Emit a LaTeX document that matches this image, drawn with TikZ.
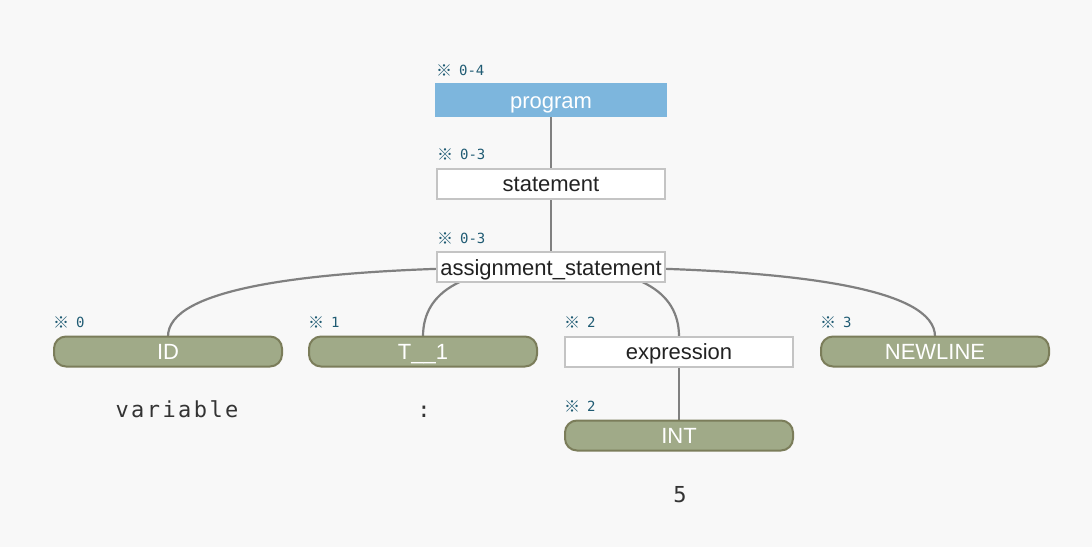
\documentclass[tikz,border=0pt]{standalone}
\usepackage{fontspec}
\setmainfont{Liberation Sans}
\newfontfamily\monofont{DejaVu Sans Mono}
\newfontfamily\leaffont[LetterSpace=11]{DejaVu Sans Mono}
\newfontfamily\cjk{Noto Sans CJK JP}
\usetikzlibrary{calc,backgrounds}
\definecolor{bgc}{HTML}{F8F8F8}
\definecolor{progfill}{HTML}{7DB6DD}
\definecolor{greenfill}{HTML}{A0AA88}
\definecolor{greenline}{HTML}{7B7D5A}
\definecolor{whiteline}{HTML}{C4C4C4}
\definecolor{linkc}{HTML}{808080}
\definecolor{labc}{HTML}{1F5B73}
\definecolor{textc}{HTML}{222222}
\definecolor{leafc}{HTML}{333333}
\newcommand{\refmark}{\raisebox{-1.2pt}{\cjk\fontsize{16}{16}\selectfont ※}\kern-1.5pt}
\tikzset{
  nodebase/.style={inner sep=0pt, outer sep=0pt, text height=17pt, text depth=1pt,
    font=\fontsize{22}{24}\selectfont},
  rulebox/.style={nodebase, draw=whiteline, line width=2pt, fill=white, text=textc,
    minimum width=228pt, minimum height=30pt},
  rootbox/.style={nodebase, fill=progfill, text=white,
    minimum width=232pt, minimum height=34pt},
  tokbox/.style={nodebase, draw=greenline, line width=2pt, fill=greenfill, text=white,
    minimum width=228pt, minimum height=30pt, rounded corners=12pt},
  lab/.style={inner sep=0pt, anchor=base west, text=labc,
    font=\fontsize{14}{15}\selectfont\monofont},
  leaf/.style={inner sep=0pt, anchor=base, text=leafc,
    font=\fontsize{22}{24}\selectfont\leaffont},
  link/.style={draw=linkc, line width=2.2pt},
  qlink/.style={to path={.. controls ($(\tikztostart)!0.6667!(\tikztostart -| \tikztotarget)$)
    and ($(\tikztotarget)!0.6667!(\tikztotarget |- \tikztostart)$) .. (\tikztotarget)}}
}
\begin{document}
\begin{tikzpicture}[x=1pt,y=-1pt]
\useasboundingbox (0,0) rectangle (1092,547);
% nodes
\node[rootbox] (prog) at (551,100) {program};
\node[rulebox] (stmt) at (551,183.5) {statement};
\node[rulebox] (asg) at (551,267) {assignment\_statement};
\node[tokbox] (id) at (168,351.5) {ID};
\node[tokbox] (t1) at (423,351.5) {T\_\_1};
\node[rulebox] (expr) at (679,351.5) {expression};
\node[tokbox] (nl) at (935,351.5) {NEWLINE};
\node[tokbox] (int) at (679,435.5) {INT};
% labels
\node[lab] (lprog) at ([xshift=1pt,yshift=8pt]prog.north west) {\refmark{} 0-4};
\node[lab] (lstmt) at ([xshift=0pt,yshift=9pt]stmt.north west) {\refmark{} 0-3};
\node[lab] (lasg) at ([xshift=0pt,yshift=9pt]asg.north west) {\refmark{} 0-3};
\node[lab] (lid) at ([xshift=-1pt,yshift=9pt]id.north west) {\refmark{} 0};
\node[lab] (lt1) at ([xshift=-1pt,yshift=9pt]t1.north west) {\refmark{} 1};
\node[lab] (lexpr) at ([xshift=-1pt,yshift=9pt]expr.north west) {\refmark{} 2};
\node[lab] (lnl) at ([xshift=-1pt,yshift=9pt]nl.north west) {\refmark{} 3};
\node[lab] (lint) at ([xshift=-1pt,yshift=9pt]int.north west) {\refmark{} 2};
% leaf texts
\node[leaf] (vvar) at (177,417) {variable};
\node[leaf] (vcol) at (424,417) {:};
\node[leaf] (vfive) at (680,502) {5};
% connectors behind
\begin{scope}[on background layer]
\fill[bgc] (0,0) rectangle (1092,547);
\draw[link] (prog.center) -- (stmt.center);
\draw[link] (stmt.center) -- (asg.center);
\draw[link] (asg.center) to[qlink] (id.north);
\draw[link] (asg.center) to[qlink] (t1.north);
\draw[link] (asg.center) to[qlink] (expr.north);
\draw[link] (asg.center) to[qlink] (nl.north);
\draw[link] (expr.center) -- (int.center);
\end{scope}
\end{tikzpicture}
\end{document}
